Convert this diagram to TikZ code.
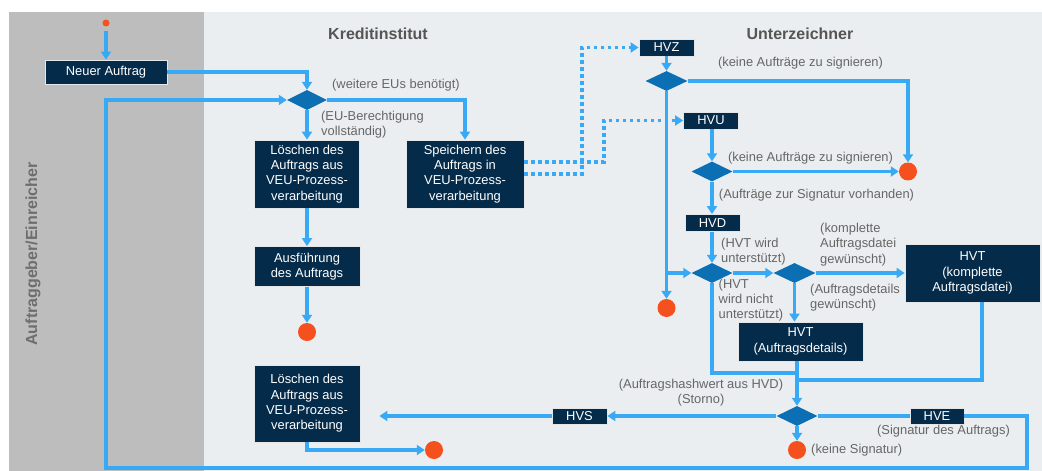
\documentclass[tikz,border=0pt]{standalone}
\usepackage{fontspec}
\setmainfont{Liberation Sans}
\usepackage{tikz}
\usetikzlibrary{shapes.geometric, arrows.meta, positioning, calc}

\begin{document}
\begin{tikzpicture}[x=1pt, y=-1pt,
    box/.style={rectangle, fill=cbox, draw=cedge, line width=0.8pt, text=white,
        inner sep=0pt, align=center, font=\fontsize{12.9}{15.3}\selectfont},
    decision/.style={diamond, fill=cdiam, inner sep=0pt, minimum width=41, minimum height=20},
    enddot/.style={circle, fill=cdot, inner sep=0pt, minimum size=18},
    plainflow/.style={draw=cflow, line width=3.5pt},
    flow/.style={plainflow, -{Triangle[length=8pt, width=10pt]}},
    dotflow/.style={flow, dash pattern=on 3.5pt off 3.5pt},
    lbl/.style={text=clabel, inner sep=0pt, align=left, font=\fontsize{12.9}{15.3}\selectfont},
    lane/.style={text=ctitle, inner sep=0pt, font=\fontsize{16}{19}\selectfont\bfseries}]

    % Colors
    \definecolor{cgray}{HTML}{BDBDBD}
    \definecolor{clight}{HTML}{EBEEF0}
    \definecolor{cbox}{HTML}{042B4A}
    \definecolor{cedge}{HTML}{E4E6E8}
    \definecolor{cdiam}{HTML}{0C6FB4}
    \definecolor{cflow}{HTML}{38A9F5}
    \definecolor{cdot}{HTML}{F4511E}
    \definecolor{clabel}{HTML}{666666}
    \definecolor{ctitle}{HTML}{555555}

    % Lanes
    \useasboundingbox (0,0) rectangle (1042,471);
    \fill[white] (0,0) rectangle (1042,471);
    \fill[cgray] (9,12) rectangle (204,471);
    \fill[clight] (204,12) rectangle (1042,471);
    \node[lane, text=ctitle!85!white, rotate=90] (einreicher) at (33,254) {Auftraggeber/Einreicher};
    \node[lane] (kredit) at (378,34) {Kreditinstitut};
    \node[lane] (unter) at (800,34) {Unterzeichner};

    % Kreditinstitut
    \node[enddot, minimum size=7] (start) at (106,23) {};
    \node[box, minimum width=122, minimum height=24] (neu) at (106,72) {Neuer Auftrag};
    \node[decision, minimum width=40] (d1) at (307,100) {};
    \node[box, minimum width=105, minimum height=68] (loeschA) at (307,174) {L\"oschen des\\Auftrags aus\\VEU-Prozess-\\verarbeitung};
    \node[box, minimum width=118, minimum height=68] (speichern) at (465,174) {Speichern des\\Auftrags in\\VEU-Prozess-\\verarbeitung};
    \node[box, minimum width=106, minimum height=40] (ausf) at (307,266.5) {Ausf\"uhrung\\des Auftrags};
    \node[enddot] (endA) at (307,332) {};
    \node[box, minimum width=106, minimum height=77] (loeschB) at (307,403.5) {L\"oschen des\\Auftrags aus\\VEU-Prozess-\\verarbeitung};
    \node[enddot] (endB) at (434,450) {};
    \node[box, minimum width=55, minimum height=16] (hvs) at (579.5,416) {HVS};

    % Unterzeichner
    \node[box, minimum width=55, minimum height=17] (hvz) at (666.5,47.5) {HVZ};
    \node[decision, minimum width=42] (d2) at (666.5,81) {};
    \node[enddot] (endD) at (908,171.5) {};
    \node[enddot] (endE) at (666.5,308) {};
    \node[box, minimum width=55, minimum height=17] (hvu) at (711,120.5) {HVU};
    \node[decision] (d4) at (712,171.5) {};
    \node[box, minimum width=55, minimum height=17] (hvd) at (712.5,223) {HVD};
    \node[decision] (d3) at (712,273) {};
    \node[decision, minimum width=42] (d5) at (794.5,273) {};
    \node[box, minimum width=135, minimum height=58] (hvtK) at (972.5,273) {HVT\\(komplette\\Auftragsdatei)};
    \node[box, minimum width=125, minimum height=39] (hvtD) at (800.5,341.5) {HVT\\(Auftragsdetails)};
    \node[decision] (d6) at (797,416) {};
    \node[enddot] (endC) at (797,450) {};
    \node[box, minimum width=54, minimum height=16] (hve) at (937,416) {HVE};

    % Labels
    \node[lbl] (lWeitere) at (396,85) {(weitere EUs ben\"otigt)};
    \node[lbl, anchor=west] (lBerecht) at (321,124.5) {(EU-Berechtigung\\vollst\"andig)};
    \node[lbl] (lKeineA) at (800.5,63) {(keine Auftr\"age zu signieren)};
    \node[lbl] (lKeineB) at (810.5,158) {(keine Auftr\"age zu signieren)};
    \node[lbl] (lVorhanden) at (816.5,195) {(Auftr\"age zur Signatur vorhanden)};
    \node[lbl, anchor=west] (lUnterst) at (721,251.5) {(HVT wird\\unterst\"utzt)};
    \node[lbl, anchor=west] (lKomplett) at (820,244.5) {(komplette\\Auftragsdatei\\gew\"unscht)};
    \node[lbl, anchor=west] (lNicht) at (718.5,300) {(HVT\\wird nicht\\unterst\"utzt)};
    \node[lbl, anchor=west] (lDetails) at (810,298) {(Auftragsdetails\\gew\"unscht)};
    \node[lbl, align=center] (lHash) at (701,392.5) {(Auftragshashwert aus HVD)\\(Storno)};
    \node[lbl] (lSignatur) at (943.5,431) {(Signatur des Auftrags)};
    \node[lbl, anchor=west] (lKeineSig) at (811,450) {(keine Signatur)};

    % Connectors Kreditinstitut
    \draw[flow, shorten <=4pt] (start) -- (neu);
    \draw[flow] (neu.east) -| (d1.north);
    \draw[flow] (d1.south) -- (loeschA.north);
    \draw[flow] (d1.east) -| (speichern.north);
    \draw[flow] (loeschA.south) -- (ausf.north);
    \draw[flow] (ausf.south) -- (endA.north);
    \draw[flow] (loeschB.south) |- (endB.west);
    \draw[flow, shorten >=19pt] (hvs.west) -- (hvs.west -| loeschB.east);

    % Connectors Unterzeichner
    \coordinate (bendU) at (604,162);
    \coordinate (bendZ) at (582,174);
    \draw[dotflow] (speichern.east |- bendU) -- (bendU) |- (hvu.west);
    \draw[dotflow] (speichern.east |- bendZ) -- (bendZ) |- (hvz.west);
    \draw[flow] (hvz.south) -- (d2.north);
    \draw[flow] (d2.east) -| (endD.north);
    \draw[flow] (d2.south) -- (endE.north);
    \draw[flow] (d2.south |- d3.west) -- (d3.west);
    \draw[flow] (hvu.south -| d4.north) -- (d4.north);
    \draw[flow] (d4.east) -- (endD.west);
    \draw[flow] (d4.south) -- (d4.south |- hvd.north);
    \draw[flow] (hvd.south -| d3.north) -- (d3.north);
    \draw[flow] (d3.east) -- (d5.west);
    \draw[flow] (d5.east) -- (hvtK.west);
    \draw[flow] (d5.south) -- (d5.south |- hvtD.north);
    \coordinate (mergeL) at (797,373);
    \coordinate (mergeR) at (797,380);
    \draw[plainflow] (d3.south) |- (mergeL);
    \draw[plainflow] ([xshift=9.5pt]hvtK.south) |- (mergeR);
    \draw[flow] (hvtD.south -| d6.north) -- (d6.north);
    \draw[flow] (d6.west) -- (hvs.east);
    \draw[flow] (d6.south) -- (endC.north);

    % Loop back to the first decision
    \coordinate (loopR) at (1027,468);
    \coordinate (loopL) at (106,468);
    \draw[plainflow] (d6.east) -- (hve.west);
    \draw[flow] (hve.east) -| (loopR) -- (loopL) |- (d1.west);
\end{tikzpicture}
\end{document}
